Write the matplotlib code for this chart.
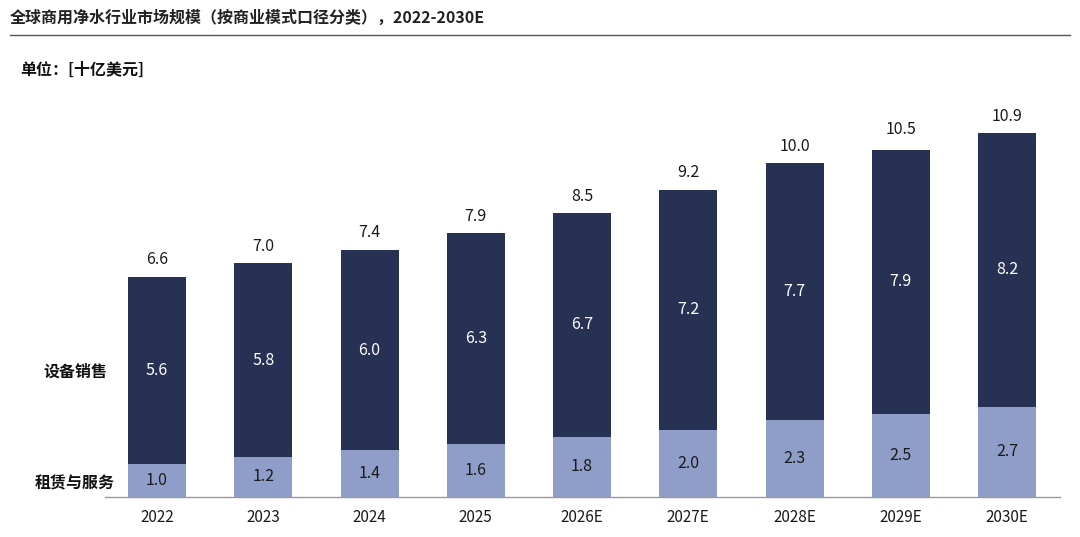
import matplotlib
matplotlib.use("Agg")
import matplotlib.pyplot as plt

years = ["2022","2023","2024","2025","2026E","2027E","2028E","2029E","2030E"]
rental = [1.0,1.2,1.4,1.6,1.8,2.0,2.3,2.5,2.7]
equipment = [5.6,5.8,6.0,6.3,6.7,7.2,7.7,7.9,8.2]
totals = [6.6,7.0,7.4,7.9,8.5,9.2,10.0,10.5,10.9]

plt.rcParams['font.family'] = ['Noto Sans CJK SC', 'DejaVu Sans']
W, H = 1080, 537
fig = plt.figure(figsize=(W/100, H/100), dpi=100)
ax = fig.add_axes([0, 0, 1, 1])
ax.axis('off')
px = 106.25; x0 = 157; ppu = 33.4; base = 40
ax.set_xlim(-x0/px, (W-x0)/px)
ax.set_ylim(-base/ppu, (H-base)/ppu)

dark = "#263153"; light = "#8f9ec9"
xs = range(len(years))
ax.bar(xs, rental, width=58/px, color=light)
ax.bar(xs, equipment, bottom=rental, width=58/px, color=dark)
for i in xs:
    ax.text(i, rental[i]/2, f"{rental[i]:.1f}", ha='center', va='center', fontsize=11.5, color='#1a1a1a')
    ax.text(i, rental[i]+equipment[i]/2, f"{equipment[i]:.1f}", ha='center', va='center', fontsize=11.5, color='white')
    ax.text(i, totals[i]+0.25, f"{totals[i]:.1f}", ha='center', va='bottom', fontsize=11.5, color='#1a1a1a')
    ax.text(i, -0.35, years[i], ha='center', va='top', fontsize=11, color='#1a1a1a')
ax.plot([-52/px, (1060-x0)/px], [0, 0], color='#999999', lw=1)

fig.text(10/W, 1-18/H, "全球商用净水行业市场规模（按商业模式口径分类），2022-2030E", fontsize=11.5, fontweight='bold', va='center', color='#222222')
fig.add_artist(plt.Line2D([10/W, 1070/W], [1-35/H, 1-35/H], color='#555555', lw=1))
fig.text(20/W, 1-70/H, "单位：[十亿美元]", fontsize=11.5, fontweight='bold', va='center', color='#111111')
fig.text(75/W, 1-372/H, "设备销售", fontsize=11.5, fontweight='bold', ha='center', va='center', color='#111111')
fig.text(75/W, 1-483/H, "租赁与服务", fontsize=11.5, fontweight='bold', ha='center', va='center', color='#111111')
fig.savefig("out.png", dpi=100)
